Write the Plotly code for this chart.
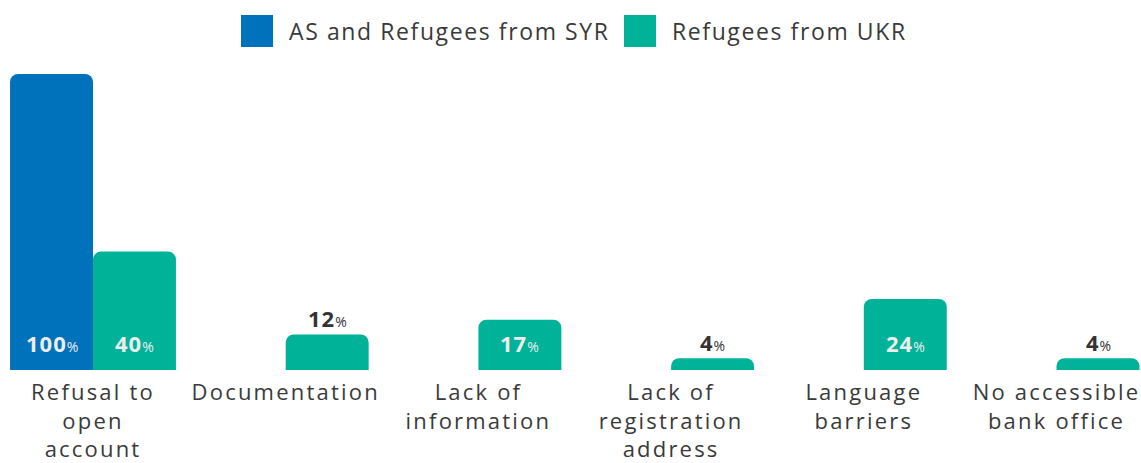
import plotly.graph_objects as go

categories = ["Refusal to<br>open<br>account", "Documentation", "Lack of<br>information",
              "Lack of<br>registration<br>address", "Language<br>barriers", "No accessible<br>bank office"]
series_names = ["AS and Refugees from SYR", "Refugees from UKR"]
syr_values = [100, None, None, None, None, None]
ukr_values = [40, 12, 17, 4, 24, 4]

colors = ["#0072BC", "#00B398"]
FONT = "Open Sans, Lato, sans-serif"
TEXT_COLOR = "#3A3A3A"
BAR_GAP = 0.139
half = (1 - BAR_GAP) / 4  # offset of each bar centre from the category centre


def spaced(text, px):
    """Apply letter spacing to every line of a label."""
    return "<br>".join(f"<span style='letter-spacing:{px}px'>{ln}</span>" for ln in text.split("<br>"))


fig = go.Figure()
for name, vals, col in zip(series_names, [syr_values, ukr_values], colors):
    fig.add_trace(go.Bar(x=categories, y=vals, name=name, marker_color=col,
                         marker_line_width=0, showlegend=False))

# value labels: inside near the base for tall bars, above the bar for short ones
annotations = []
for s, vals in enumerate([syr_values, ukr_values]):
    for i, v in enumerate(vals):
        if v is None:
            continue
        xpos = i + (-half if s == 0 else half)
        txt = (f"<b><span style='letter-spacing:1px'>{v}</span></b>"
               f"<span style='font-size:14px'>%</span>")
        if v >= 15:
            annotations.append(dict(x=xpos, y=0, yshift=27, text=txt, showarrow=False,
                                    xref="x", yref="y", yanchor="middle",
                                    font=dict(family=FONT, size=22, color="#EDEDED")))
        else:
            annotations.append(dict(x=xpos, y=v, yshift=16, text=txt, showarrow=False,
                                    xref="x", yref="y", yanchor="middle",
                                    font=dict(family=FONT, size=22, color="#333333")))

# legend drawn as squares + labels centred above the plot
legend_items = [(241, series_names[0], colors[0]), (624, series_names[1], colors[1])]
shapes = []
for x0, name, col in legend_items:
    shapes.append(dict(type="rect", xref="paper", yref="paper",
                       x0=x0 / 1141, x1=(x0 + 32) / 1141,
                       y0=(370 - 47) / 296, y1=(370 - 15) / 296,
                       fillcolor=col, line_width=0))
    annotations.append(dict(x=(x0 + 46) / 1141, y=(370 - 31) / 296, xref="paper", yref="paper",
                            xanchor="left", yanchor="middle", text=spaced(name, 1.6), showarrow=False,
                            font=dict(family=FONT, size=23, color=TEXT_COLOR)))

fig.update_layout(
    width=1141, height=463,
    margin=dict(l=0, r=0, t=74, b=93),
    barmode="group", bargap=BAR_GAP, bargroupgap=0, barcornerradius=8,
    plot_bgcolor="white", paper_bgcolor="white",
    showlegend=False,
    annotations=annotations, shapes=shapes,
    font=dict(family=FONT, color=TEXT_COLOR),
)
fig.update_xaxes(range=[-0.4826, 5.4384], showgrid=False, showline=False, zeroline=False,
                 automargin=False,
                 tickmode="array", tickvals=categories,
                 ticktext=[spaced(c, 2.2) for c in categories],
                 ticks="", ticklabelstandoff=7,
                 tickfont=dict(family=FONT, size=22, color=TEXT_COLOR), tickangle=0)
fig.update_yaxes(range=[0, 100], visible=False, showgrid=False, zeroline=False, automargin=False)

fig.write_html("out.html")
